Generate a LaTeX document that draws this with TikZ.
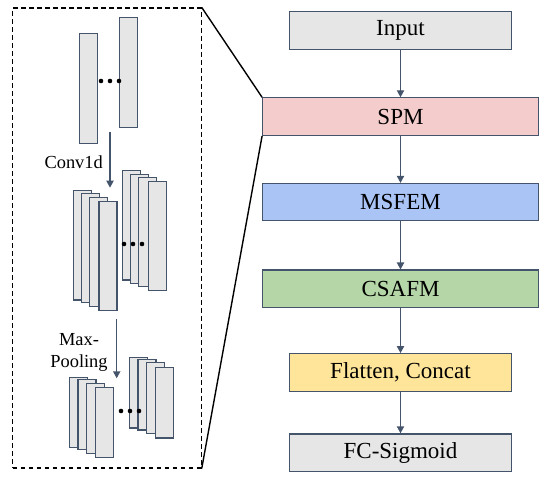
\documentclass[tikz,border=0pt]{standalone}
\usepackage{fontspec}
\setmainfont{Liberation Serif}
\usepackage{tikz}
\usetikzlibrary{positioning, arrows.meta}
\definecolor{myslate}{HTML}{44546A}
\definecolor{mygray}{HTML}{E7E6E6}
\definecolor{mypink}{HTML}{F4CCCC}
\definecolor{myblue}{HTML}{A9C4F5}
\definecolor{mygreen}{HTML}{B5D7A8}
\definecolor{myyellow}{HTML}{FFE599}
\tikzset{
	blocknode/.style={
			rectangle,
			draw=myslate,
			line width=0.6pt,
			minimum height=18.7pt,
			inner sep=0pt,
			font=\fontsize{11.5}{13}\selectfont
		},
	widenode/.style={
			blocknode,
			minimum width=137.8pt
		},
	narrownode/.style={
			blocknode,
			minimum width=111.2pt
		},
	featmap/.style={
			rectangle,
			draw=myslate,
			fill=mygray,
			line width=0.6pt,
			anchor=north west,
			minimum width=9pt,
			inner sep=0pt
		},
	flowarrow/.style={
			draw=myslate,
			line width=0.7pt,
			-{Triangle[length=3.5pt,width=3.6pt]}
		},
	dotnode/.style={
			circle,
			fill=black,
			minimum size=2.3pt,
			inner sep=0pt
		},
	smalltext/.style={
			font=\fontsize{9.2}{10.8}\selectfont,
			align=center,
			inner sep=0pt
		}
}

\begin{document}
\begin{tikzpicture}[x=0.5pt, y=-0.5pt]
\useasboundingbox (0,0) rectangle (550,480);

% main pipeline
\node[narrownode, fill=mygray] (inp) at (400.5,30.6) {Input};
\node[widenode, fill=mypink, below=23.7pt of inp] (spm) {SPM};
\node[widenode, fill=myblue, below=23.5pt of spm] (msfem) {MSFEM};
\node[widenode, fill=mygreen, below=24pt of msfem] (csafm) {CSAFM};
\node[narrownode, fill=myyellow, below=22.5pt of csafm] (flat) {Flatten, Concat};
\node[narrownode, fill=mygray, below=20.8pt of flat] (fcs) {FC-Sigmoid};

\draw[flowarrow] (inp) -- (spm);
\draw[flowarrow] (spm) -- (msfem);
\draw[flowarrow] (msfem) -- (csafm);
\draw[flowarrow] (csafm) -- (flat);
\draw[flowarrow] (flat) -- (fcs);

% zoomed view of SPM
\node[draw, dash pattern=on 2.4pt off 1.6pt, line width=0.6pt,
      minimum width=94.3pt, minimum height=230pt, inner sep=0pt] (zoom) at (106.8,238) {};
\draw[line width=0.7pt] (zoom.north east) -- (spm.north west);
\draw[line width=0.7pt] (zoom.south east) -- (spm.south west);

% input sequences
\node[featmap, minimum height=54.7pt] (s1) at (79,33.3) {};
\node[featmap, minimum height=54.7pt] (s2) at (118.7,17.3) {};
\foreach \x in {101,110,119} \node[dotnode] at (\x,81) {};

\coordinate (a1s) at (110,131.7);
\coordinate (a1e) at (110,187.7);
\draw[flowarrow] (a1s) -- (a1e);
\node[smalltext] (conv) at (73.7,162) {Conv1d};

% conv feature maps
\foreach \x/\y [count=\i] in {72.7/190,80.7/192.7,88.7/196.7,98.3/200.7}
	\node[featmap, minimum height=54.7pt] (ca\i) at (\x,\y) {};
\foreach \x/\y [count=\i] in {122/170.3,130/173.7,138/177,147.7/181}
	\node[featmap, minimum height=54.5pt] (cb\i) at (\x,\y) {};
\foreach \x in {124,133,142} \node[dotnode] at (\x,244) {};

\coordinate (a2s) at (116.7,319.3);
\coordinate (a2e) at (116.7,378.3);
\draw[flowarrow] (a2s) -- (a2e);
\node[smalltext] (pool) at (79,352.5) {Max-\\Pooling};

% pooled feature maps
\foreach \x/\y [count=\i] in {68.7/376.7,77.3/378.7,86/382.7,95/386.7}
	\node[featmap, minimum height=35pt] (pa\i) at (\x,\y) {};
\foreach \x/\y [count=\i] in {128.7/356.7,137.3/358.7,146/362,155/366.7}
	\node[featmap, minimum height=35.3pt] (pb\i) at (\x,\y) {};
\foreach \x in {121,130,139} \node[dotnode] at (\x,411) {};
\end{tikzpicture}
\end{document}
